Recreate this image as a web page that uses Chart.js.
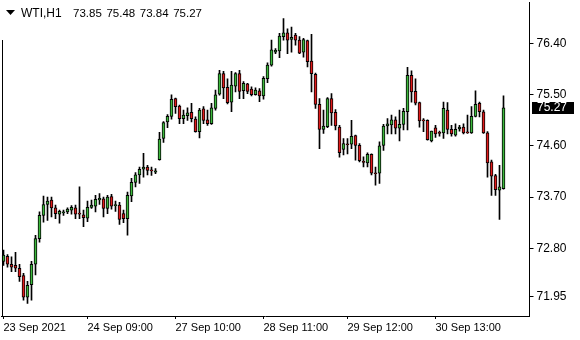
<!DOCTYPE html>
<html>
<head>
<meta charset="utf-8">
<script src="https://cdn.jsdelivr.net/npm/chart.js@4.4.0/dist/chart.umd.min.js"></script>
<style>
  html, body { margin: 0; padding: 0; background: #fff; }
  canvas { display: block; }
</style>
</head>
<body>
<canvas id="chart" width="580" height="340"></canvas>
<script>
// WTI H1 candles
const open = [72.57, 72.66, 72.52, 72.50, 72.45, 72.32, 71.94, 72.16, 72.52, 72.97,
  73.38, 73.57, 73.65, 73.51, 73.40, 73.42, 73.44, 73.47, 73.51, 73.41,
  73.39, 73.33, 73.52, 73.54, 73.65, 73.67, 73.50, 73.71, 73.55, 73.56,
  73.41, 73.32, 73.72, 73.96, 74.09, 74.19, 74.23, 74.17, 74.14, 74.36,
  74.73, 75.02, 75.12, 75.43, 75.30, 75.08, 75.13, 75.19, 75.07, 74.85,
  75.25, 75.06, 74.99, 75.26, 75.51, 75.87, 75.63, 75.37, 75.65, 75.87,
  75.57, 75.69, 75.60, 75.50, 75.57, 75.48, 75.78, 76.02, 76.25, 76.27,
  76.52, 76.59, 76.47, 76.55, 76.46, 76.25, 76.45, 76.09, 75.86, 75.33,
  74.89, 74.94, 75.43, 75.19, 74.93, 74.54, 74.63, 74.63, 74.78, 74.61,
  74.33, 74.30, 74.45, 74.12, 74.12, 74.61, 74.95, 74.97, 75.06, 74.91,
  74.98, 75.20, 75.84, 75.56, 75.36, 75.06, 75.05, 74.69, 74.92, 74.83,
  74.83, 75.23, 74.89, 74.79, 74.90, 74.93, 74.84, 74.83, 75.12, 75.35,
  75.20, 74.83, 74.32, 74.08, 73.82, 73.85];
const high = [72.77, 72.69, 72.65, 72.73, 72.52, 72.36, 72.22, 72.57, 73.03, 73.44,
  73.72, 73.70, 73.70, 73.56, 73.47, 73.47, 73.51, 73.55, 73.56, 73.88,
  73.47, 73.63, 73.65, 73.73, 73.76, 73.70, 73.73, 73.75, 73.63, 73.61,
  73.47, 73.79, 74.03, 74.13, 74.23, 74.47, 74.26, 74.23, 74.20, 74.84,
  75.03, 75.15, 75.50, 75.44, 75.32, 75.23, 75.27, 75.35, 75.11, 75.26,
  75.29, 75.23, 75.35, 75.58, 75.93, 75.91, 75.78, 75.91, 75.89, 75.93,
  75.73, 75.70, 75.64, 75.62, 75.61, 75.82, 76.06, 76.46, 76.31, 76.58,
  76.84, 76.66, 76.69, 76.58, 76.52, 76.49, 76.46, 76.56, 75.88, 75.43,
  75.23, 75.45, 75.52, 75.24, 74.96, 74.73, 74.73, 75.05, 74.79, 74.64,
  74.41, 74.48, 74.46, 74.23, 74.67, 74.98, 75.08, 75.14, 75.11, 75.23,
  75.26, 75.98, 75.92, 75.78, 75.37, 75.08, 75.06, 74.86, 74.96, 74.86,
  75.37, 75.36, 74.96, 74.99, 74.96, 74.99, 75.14, 75.29, 75.57, 75.37,
  75.23, 74.85, 74.35, 74.10, 74.26, 75.48];
const low = [72.50, 72.47, 72.39, 72.39, 72.22, 71.89, 71.83, 71.89, 72.33, 72.91,
  73.26, 73.29, 73.35, 73.32, 73.24, 73.38, 73.41, 73.40, 73.32, 73.32,
  73.18, 73.27, 73.50, 73.44, 73.57, 73.35, 73.41, 73.49, 73.45, 73.22,
  73.25, 73.03, 73.62, 73.88, 73.94, 74.05, 74.09, 74.08, 74.11, 74.35,
  74.66, 74.92, 75.07, 75.17, 74.99, 74.99, 75.05, 75.02, 74.84, 74.74,
  74.99, 74.96, 74.98, 75.23, 75.49, 75.43, 75.34, 75.20, 75.55, 75.43,
  75.43, 75.52, 75.48, 75.49, 75.38, 75.42, 75.71, 76.00, 76.22, 76.15,
  76.46, 76.22, 76.25, 76.37, 76.22, 76.16, 75.99, 75.55, 75.26, 74.55,
  74.82, 74.92, 74.96, 74.88, 74.40, 74.44, 74.46, 74.55, 74.35, 74.32,
  74.23, 74.23, 74.09, 73.91, 73.94, 74.52, 74.81, 74.81, 74.81, 74.69,
  74.88, 74.88, 75.37, 75.32, 74.93, 74.85, 74.70, 74.67, 74.75, 74.77,
  74.73, 74.81, 74.77, 74.77, 74.86, 74.81, 74.82, 74.82, 75.11, 75.11,
  74.82, 74.05, 73.73, 73.73, 73.31, 73.84];
const close = [72.68, 72.52, 72.47, 72.45, 72.30, 71.94, 72.15, 72.52, 72.97, 73.38,
  73.57, 73.63, 73.51, 73.41, 73.45, 73.44, 73.49, 73.52, 73.40, 73.40,
  73.34, 73.52, 73.56, 73.66, 73.68, 73.50, 73.70, 73.54, 73.56, 73.31,
  73.32, 73.73, 73.96, 74.09, 74.19, 74.23, 74.17, 74.16, 74.16, 74.72,
  75.01, 75.12, 75.42, 75.29, 75.08, 75.14, 75.18, 75.08, 74.85, 75.23,
  75.05, 74.99, 75.27, 75.50, 75.87, 75.62, 75.36, 75.67, 75.87, 75.56,
  75.70, 75.56, 75.50, 75.58, 75.48, 75.79, 76.02, 76.29, 76.28, 76.53,
  76.59, 76.46, 76.51, 76.46, 76.23, 76.47, 76.08, 75.87, 75.33, 74.89,
  74.95, 75.43, 75.18, 74.95, 74.48, 74.64, 74.62, 74.77, 74.61, 74.34,
  74.31, 74.45, 74.12, 74.11, 74.60, 74.95, 74.99, 75.06, 74.91, 74.98,
  75.21, 75.84, 75.55, 75.35, 75.04, 75.04, 74.71, 74.86, 74.81, 74.82,
  75.26, 74.89, 74.81, 74.89, 74.93, 74.83, 74.83, 75.12, 75.33, 75.20,
  74.83, 74.30, 74.07, 73.83, 73.88, 75.27];

const emptySlots = 6; // free space right of the last bar
const yTicks = [71.95, 72.80, 73.70, 74.60, 75.50, 76.40];
const xTickIdx = [0, 21, 43, 65, 86, 108];
const xTickText = ['23 Sep 2021', '24 Sep 09:00', '27 Sep 10:00', '28 Sep 11:00', '29 Sep 12:00', '30 Sep 13:00'];

const upColor = '#3cb83c';
const downColor = '#e01b1b';

const slots = Array.from({ length: close.length + emptySlots }, (_, i) => i);
const bodies = open.map((o, i) => [o, close[i]]);
const wicks = low.map((l, i) => [l, high[i]]);
const bodyColors = open.map((o, i) => close[i] >= o ? upColor : downColor);

Chart.defaults.font.family = '"Liberation Sans", Arial, sans-serif';
Chart.defaults.color = '#000';

const overlay = {
    id: 'overlay',
    afterDraw(chart) {
        const { ctx } = chart;
        const y = chart.scales.y;
        ctx.save();
        // left frame line
        ctx.strokeStyle = '#000';
        ctx.lineWidth = 1;
        ctx.beginPath();
        ctx.moveTo(2.5, 40);
        ctx.lineTo(2.5, 316);
        ctx.stroke();

        // header
        ctx.fillStyle = '#000';
        ctx.beginPath();
        ctx.moveTo(6, 10);
        ctx.lineTo(15, 10);
        ctx.lineTo(10.5, 15);
        ctx.closePath();
        ctx.fill();
        ctx.textBaseline = 'alphabetic';
        ctx.font = '12px "Liberation Sans"';
        ctx.fillText('WTI,H1', 21, 17);
        ctx.font = '11.5px "Liberation Sans"';
        const last = open.length - 1;
        [open[last], high[last], low[last], close[last]].forEach((v, k) => {
            ctx.fillText(v.toFixed(2), 73 + k * 33.4, 17);
        });

        // current price marker
        const py = Math.round(y.getPixelForValue(close[last]));
        ctx.fillRect(532, py - 6, 42, 12);
        ctx.fillStyle = '#fff';
        ctx.font = '12px "Liberation Sans"';
        ctx.textBaseline = 'middle';
        ctx.fillText(close[last].toFixed(2), 537, py);
        ctx.restore();
    }
};

new Chart(document.getElementById('chart'), {
    type: 'bar',
    data: {
        labels: slots,
        datasets: [{
            label: 'body',
            data: bodies,
            backgroundColor: bodyColors,
            borderColor: '#000',
            borderWidth: 1,
            borderSkipped: false,
            barThickness: 3,
            minBarLength: 1,
            grouped: false,
            order: 0
        }, {
            label: 'wick',
            data: wicks,
            backgroundColor: '#000',
            borderWidth: 0,
            barThickness: 1,
            grouped: false,
            order: 1
        }]
    },
    options: {
        responsive: false,
        animation: false,
        layout: { padding: { left: 1.5, top: 2, right: 0, bottom: 0 } },
        plugins: {
            legend: { display: false },
            tooltip: { enabled: false }
        },
        scales: {
            x: {
                type: 'category',
                offset: true,
                grid: { offset: false, drawOnChartArea: false, color: '#000', tickLength: 3 },
                border: { display: true, color: '#000' },
                ticks: {
                    autoSkip: false,
                    maxRotation: 0,
                    align: 'start',
                    padding: 2,
                    font: { size: 11 },
                    callback: v => xTickText[xTickIdx.indexOf(v)]
                },
                afterBuildTicks: axis => {
                    axis.ticks = axis.ticks.filter(t => xTickIdx.includes(t.value));
                },
                afterFit: axis => {
                    axis.height = 24;
                    axis.paddingLeft = 0;
                    axis.paddingRight = 0;
                }
            },
            y: {
                position: 'right',
                min: 71.61,
                max: 77.13,
                grid: { drawOnChartArea: false, color: '#000', tickLength: 4 },
                border: { display: true, color: '#000' },
                ticks: {
                    padding: 3,
                    font: { size: 12 },
                    callback: v => Number(v).toFixed(2)
                },
                afterBuildTicks: axis => {
                    axis.ticks = yTicks.map(v => ({ value: v }));
                },
                afterFit: axis => {
                    axis.width = 50.5;
                    axis.paddingTop = 0;
                    axis.paddingBottom = 0;
                }
            }
        }
    },
    plugins: [overlay]
});
</script>
</body>
</html>
